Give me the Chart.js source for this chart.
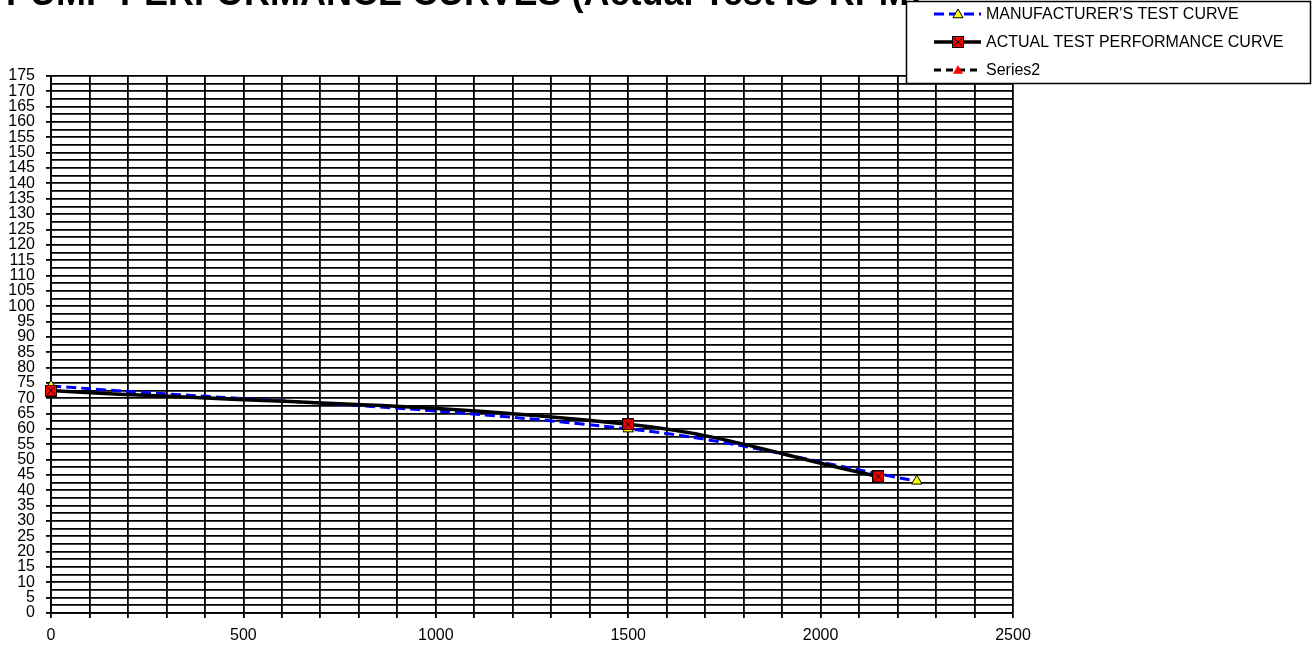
<!DOCTYPE html>
<html lang="en">
<head>
<meta charset="UTF-8">
<title>Pump Performance Curves</title>
<script src="https://cdn.jsdelivr.net/npm/chart.js"></script>
<style>
    html, body { margin: 0; padding: 0; background: #fff; }
    .chart-box { position: relative; width: 1312px; height: 650px; }
</style>
</head>
<body>
<div class="chart-box">
    <canvas id="pumpChart"></canvas>
</div>

<script>
// Datos
const titleText = "PUMP PERFORMANCE CURVES (Actual Test IS RPM)";
const seriesNames = ["MANUFACTURER'S TEST CURVE", "ACTUAL TEST PERFORMANCE CURVE", "Series2"];

const mfrFlow = [0, 1500, 2250];
const mfrHead = [74, 60, 43];

const actualFlow = [0, 1500, 2150];
const actualHead = [72.5, 61.5, 44.5];

const series2Flow = [];
const series2Head = [];

const xMin = 0, xMax = 2500, xGridStep = 100, xLabelStep = 500;
const yMin = 0, yMax = 175, yGridStep = 2.5, yLabelStep = 5;

const FONT = '"Liberation Sans", Arial, sans-serif';

function toPoints(xs, ys) {
    return xs.map((x, i) => ({ x: x, y: ys[i] }));
}

// marcador cuadrado rojo con una X negra
function makeSquareX(size) {
    const c = document.createElement('canvas');
    c.width = size; c.height = size;
    const g = c.getContext('2d');
    g.fillStyle = '#ff0000';
    g.fillRect(0, 0, size, size);
    g.strokeStyle = '#000';
    g.lineWidth = 1;
    g.strokeRect(0.5, 0.5, size - 1, size - 1);
    g.beginPath();
    g.moveTo(2, 2); g.lineTo(size - 2, size - 2);
    g.moveTo(size - 2, 2); g.lineTo(2, size - 2);
    g.stroke();
    return c;
}
const squareX = makeSquareX(12);

// titulo (cortado arriba) y leyenda con recuadro
const decorPlugin = {
    id: 'decor',
    afterDraw(chart) {
        const ctx = chart.ctx;
        ctx.save();
        ctx.fillStyle = '#000';
        ctx.font = 'bold 36px ' + FONT;
        ctx.textBaseline = 'alphabetic';
        ctx.textAlign = 'left';
        ctx.fillText(titleText, 6, 5);

        // caja de leyenda
        const bx = 906.5, by = 1.5, bw = 404, bh = 82;
        ctx.fillStyle = '#fff';
        ctx.fillRect(bx, by, bw, bh);
        ctx.strokeStyle = '#000';
        ctx.lineWidth = 1.5;
        ctx.strokeRect(bx, by, bw, bh);

        const rows = [14, 42, 70];
        chart.data.datasets.forEach((ds, i) => {
            const y = rows[i];
            ctx.save();
            ctx.strokeStyle = ds.borderColor;
            ctx.lineWidth = ds.borderWidth;
            ctx.setLineDash(ds.borderDash || []);
            ctx.beginPath();
            ctx.moveTo(934, y);
            ctx.lineTo(981, y);
            ctx.stroke();
            ctx.restore();

            if (ds.pointStyle instanceof HTMLCanvasElement) {
                const s = ds.pointStyle.width;
                ctx.drawImage(ds.pointStyle, 958 - s / 2, y - s / 2);
            } else {
                const r = 5;
                ctx.beginPath();
                ctx.moveTo(958, y - r);
                ctx.lineTo(958 + r, y + r * 0.75);
                ctx.lineTo(958 - r, y + r * 0.75);
                ctx.closePath();
                ctx.fillStyle = ds.pointBackgroundColor;
                ctx.fill();
                if (ds.pointBorderWidth > 0) {
                    ctx.strokeStyle = ds.pointBorderColor;
                    ctx.lineWidth = 1;
                    ctx.stroke();
                }
            }
            ctx.fillStyle = '#000';
            ctx.font = '16px ' + FONT;
            ctx.textBaseline = 'middle';
            ctx.fillText(ds.label, 986, y + 1);
        });
        ctx.restore();
    }
};

const chartCtx = document.getElementById('pumpChart').getContext('2d');
const pumpChart = new Chart(chartCtx, {
    type: 'line',
    data: {
        datasets: [
            {
                label: seriesNames[0],
                data: toPoints(mfrFlow, mfrHead),
                borderColor: '#0000ff',
                borderWidth: 3,
                borderDash: [10, 5],
                tension: 0.4,
                pointStyle: 'triangle',
                pointRadius: 6,
                pointBackgroundColor: '#ffff00',
                pointBorderColor: '#000',
                pointBorderWidth: 1,
                order: 2,
                clip: false
            },
            {
                label: seriesNames[1],
                data: toPoints(actualFlow, actualHead),
                borderColor: '#000000',
                borderWidth: 3.5,
                tension: 0.4,
                pointStyle: squareX,
                pointRadius: 6,
                order: 1,
                clip: false
            },
            {
                label: seriesNames[2],
                data: toPoints(series2Flow, series2Head),
                borderColor: '#000000',
                borderWidth: 3,
                borderDash: [7, 5],
                pointStyle: 'triangle',
                pointRadius: 5,
                pointBackgroundColor: '#ff0000',
                pointBorderColor: '#ff0000',
                pointBorderWidth: 0,
                order: 3,
                clip: false
            }
        ]
    },
    options: {
        responsive: true,
        maintainAspectRatio: false,
        animation: false,
        layout: { padding: { top: 76, right: 299, left: 0, bottom: 0 } },
        plugins: {
            legend: { display: false },
            tooltip: { enabled: false }
        },
        scales: {
            x: {
                type: 'linear',
                min: xMin,
                max: xMax,
                afterFit: s => { s.height = 37; },
                border: { display: true, color: '#000', width: 1.8 },
                grid: { color: '#000', lineWidth: 1.8, tickLength: 5, tickColor: '#000' },
                ticks: {
                    stepSize: xGridStep,
                    autoSkip: false,
                    maxRotation: 0,
                    padding: 8,
                    color: '#000',
                    font: { family: FONT, size: 16 },
                    callback: v => (v % xLabelStep === 0 ? v : '')
                }
            },
            y: {
                min: yMin,
                max: yMax,
                afterFit: s => { s.width = 51; },
                border: { display: true, color: '#000', width: 1.8 },
                grid: {
                    color: '#000',
                    lineWidth: 1.8,
                    tickLength: 5,
                    tickColor: c => (c.tick && c.tick.value % yLabelStep === 0 ? '#000' : 'rgba(0,0,0,0)')
                },
                ticks: {
                    stepSize: yGridStep,
                    autoSkip: false,
                    padding: 11,
                    color: '#000',
                    font: { family: FONT, size: 16, lineHeight: 1 },
                    callback: v => (v % yLabelStep === 0 ? v : '')
                }
            }
        }
    },
    plugins: [decorPlugin]
});
</script>
</body>
</html>
